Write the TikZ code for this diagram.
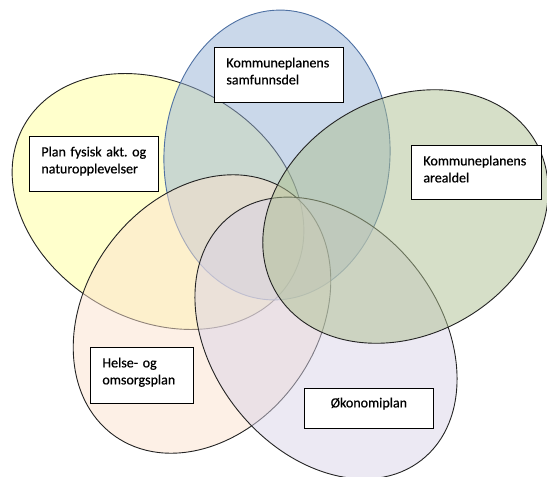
\documentclass[tikz,border=0pt]{standalone}
\usepackage{fontspec}
\setmainfont{Carlito}
\newfontfamily\planfont{Carlito}[FakeBold=0.6]
\usepackage{xcolor}
\usetikzlibrary{positioning}
\frenchspacing
\definecolor{cYel}{RGB}{255,255,153}
\definecolor{cBlu}{RGB}{149,177,213}
\definecolor{cPea}{RGB}{251,225,205}
\definecolor{cLav}{RGB}{217,211,231}
\definecolor{cGrn}{RGB}{173,191,145}
\definecolor{edgeBlu}{RGB}{79,113,163}
\definecolor{edgeDk}{RGB}{35,35,35}
\begin{document}
\begin{tikzpicture}[x=1pt,y=-1pt,font=\planfont\fontsize{14}{17}\selectfont,
  venn/.style={line width=0.9pt,fill opacity=0.5,draw opacity=1},
  planbox/.style={draw=black,line width=0.8pt,fill=white,inner sep=0pt,inner xsep=12pt,
    text height=20pt,align=left,anchor=north west}]
\useasboundingbox (0,0) rectangle (547,477);
\foreach \px/\py/\radx/\rady/\ang/\fc/\dc in {158/201.5/154/118/-30/cYel/edgeDk,
  277/155/113/145/-3/cBlu/edgeBlu,202/314/150/116/54/cPea/edgeDk,
  326/338/155/114/-52/cLav/edgeDk,405.5/216.5/150/118/30/cGrn/edgeDk}
  \filldraw[venn,fill=\fc,draw=\dc,rotate around={\ang:(\px,\py)}] (\px,\py) ellipse [x radius=\radx, y radius=\rady];
\node[planbox,text width=105pt,text depth=35pt] (samf) at (214,47) {Kommuneplanens\\samfunnsdel};
\node[planbox,text width=105pt,text depth=35pt] (fysisk) at (29,136) {\mbox{Plan fysisk akt. og}\\naturopplevelser};
\node[planbox,text width=106pt,text depth=34pt] (areal) at (411,145) {Kommuneplanens\\arealdel};
\node[planbox,text width=79pt,text depth=36pt] (helse) at (90,347) {Helse- og\\omsorgsplan};
\node[planbox,text width=105pt,text height=19pt,text depth=21pt,align=center] (okonomi) at (304,388) {Økonomiplan};
\end{tikzpicture}
\end{document}
